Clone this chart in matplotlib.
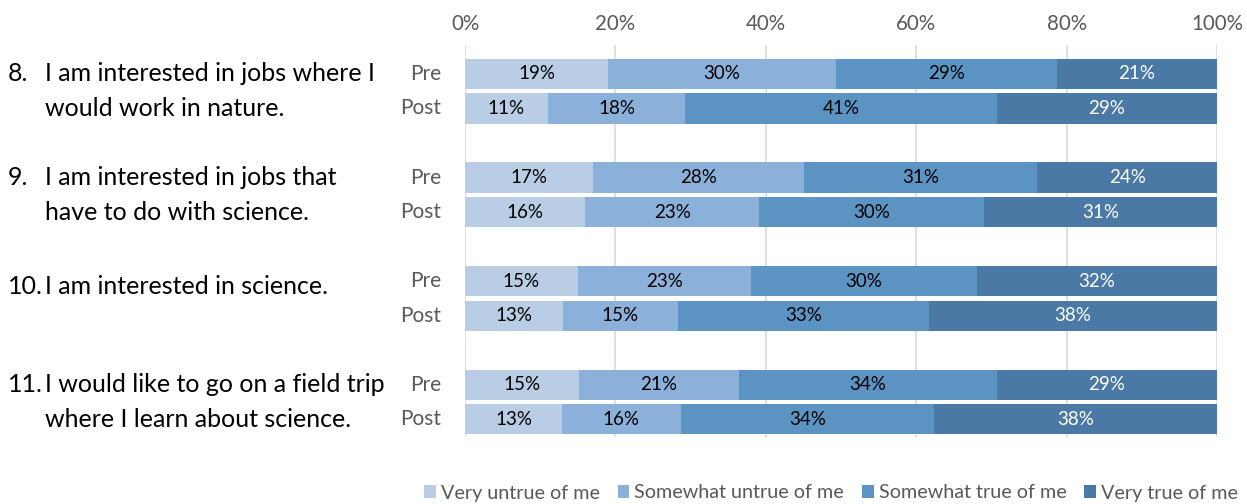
import numpy as np
import matplotlib
matplotlib.use('Agg')
import matplotlib.pyplot as plt
import matplotlib.transforms as mtransforms
from matplotlib.patches import Patch

######################### Data ###########################
QUESTIONS = ['8.', '9.', '10.', '11.']
Q_TEXT = [['I am interested in jobs where I', 'would work in nature.'],
          ['I am interested in jobs that', 'have to do with science.'],
          ['I am interested in science.'],
          ['I would like to go on a field trip', 'where I learn about science.']]
PHASES = ['Pre', 'Post']
RESPONSES = ['Very untrue of me', 'Somewhat untrue of me',
             'Somewhat true of me', 'Very true of me']

# percent per response, rows ordered q8 pre, q8 post, q9 pre, ...
very_untrue     = [19.0, 11.0, 17.0, 16.0, 15.0, 13.0, 15.2, 12.9]
somewhat_untrue = [30.3, 18.3, 28.1, 23.1, 23.0, 15.3, 21.2, 15.8]
somewhat_true   = [29.4, 41.4, 31.0, 29.9, 30.1, 33.4, 34.3, 33.7]
very_true       = [21.3, 29.3, 23.9, 31.0, 31.9, 38.3, 29.3, 37.6]
##########################################################

COLORS = ['#B9CDE5', '#8BB0DA', '#5B93C3', '#4A79A5']
TXT_COLORS = ['black', 'black', 'black', 'white']
GRAY = '#595959'
FONT = 'Lato'

plt.rcParams['font.family'] = [FONT, 'DejaVu Sans']

W, H = 1247, 504
fig = plt.figure(figsize=(W / 100, H / 100), dpi=100)
ax = fig.add_axes([465 / W, (H - 437) / H, 752 / W, 392 / H])

# y positions: groups 3 units apart, pre/post 1 unit apart
ys = []
for g in range(len(QUESTIONS)):
    ys += [g * 3, g * 3 + 1]
ys = np.array(ys)

series = [very_untrue, somewhat_untrue, somewhat_true, very_true]
left = np.zeros(len(ys))
for vals, col, tcol in zip(series, COLORS, TXT_COLORS):
    vals = np.array(vals)
    ax.barh(ys, vals, left=left, height=0.87, color=col, zorder=3)
    for y, l, v in zip(ys, left, vals):
        ax.text(l + v / 2, y, '{:.0f}%'.format(v), ha='center', va='center',
                fontsize=13.5, color=tcol, zorder=4)
    left += vals

ax.set_xlim(0, 100)
ax.set_ylim(10.52, -0.84)

ax.xaxis.tick_top()
ax.set_xticks(np.arange(0, 101, 20))
ax.set_xticklabels(['{}%'.format(t) for t in range(0, 101, 20)])
ax.tick_params(axis='x', length=0, pad=8, labelsize=14.8, labelcolor=GRAY)
ax.grid(axis='x', color='#D9D9D9', linewidth=1.2, zorder=0)
ax.set_yticks([])
for s in ax.spines.values():
    s.set_visible(False)

# Pre / Post labels
trans = mtransforms.blended_transform_factory(fig.transFigure, ax.transData)
for i, y in enumerate(ys):
    fig.text(441 / W, y, PHASES[i % 2], transform=trans, ha='right', va='center',
             fontsize=15, color=GRAY)

# Question labels
q_offsets = [[0, 1], [0, 1], [0.15], [0, 1]]
for g, (num, lines) in enumerate(zip(QUESTIONS, Q_TEXT)):
    for k, line in enumerate(lines):
        y = g * 3 + q_offsets[g][k]
        if k == 0:
            fig.text(8 / W, y, num, transform=trans, ha='left', va='center',
                     fontsize=18, color='black')
        fig.text(45 / W, y, line, transform=trans, ha='left', va='center',
                 fontsize=18, color='black')

# Legend
handles = [Patch(facecolor=c, edgecolor='none') for c in COLORS]
leg = fig.legend(handles, RESPONSES, ncol=4, loc='center',
                 bbox_to_anchor=(831 / W, 1 - 493 / H), frameon=False,
                 fontsize=14.2, handlelength=0.6, handleheight=0.6,
                 handletextpad=0.25, columnspacing=0.9, borderaxespad=0,
                 borderpad=0)
for t in leg.get_texts():
    t.set_color(GRAY)

fig.savefig('out.png', dpi=100)
